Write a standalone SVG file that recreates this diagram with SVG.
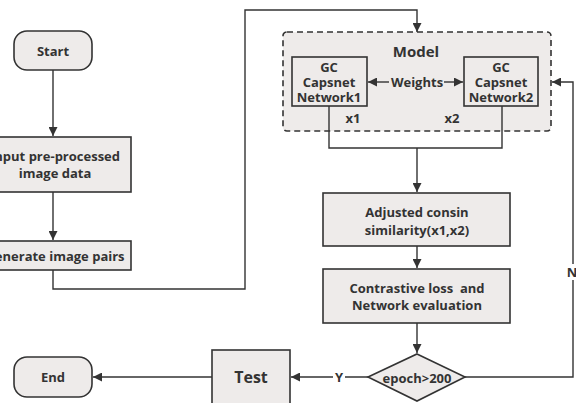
<svg xmlns="http://www.w3.org/2000/svg" width="576" height="403" viewBox="0 0 576 403">
<defs>
<marker id="ah" viewBox="0 0 10 10" refX="10" refY="5" markerWidth="9" markerHeight="9" markerUnits="userSpaceOnUse" orient="auto">
<path d="M0,0 L10,5 L0,10 z" fill="#333"/>
</marker>
</defs>
<style>
.box{fill:#eeebea;stroke:#333;stroke-width:1.6}
.ln{fill:none;stroke:#333;stroke-width:1.4}
.t{font-family:"Open Sans","Noto Sans",sans-serif;font-weight:bold;font-size:13px;fill:#333;text-anchor:middle;dominant-baseline:central}
</style>
<rect width="576" height="403" fill="#fff"/>
<g id="start">
<rect class="box" x="14" y="31" width="78" height="39" rx="13"/>
<text class="t" x="53" y="51">Start</text>
</g>
<g id="input">
<rect class="box" x="-25" y="137" width="156" height="55"/>
<text class="t" x="55" y="156">Input pre-processed</text>
<text class="t" x="55" y="173">image data</text>
</g>
<g id="generate">
<rect class="box" x="-25" y="241" width="156" height="29"/>
<text class="t" x="55" y="256">Generate image pairs</text>
</g>
<g id="model">
<rect x="283" y="32" width="268" height="99" rx="4" fill="#eeebea" stroke="#333" stroke-width="1.6" stroke-dasharray="6,4"/>
<text class="t" x="416" y="51" style="font-size:15px">Model</text>
<text class="t" x="417" y="82">Weights</text>
<text class="t" x="353" y="118">x1</text>
<text class="t" x="452" y="118">x2</text>
</g>
<g id="net1">
<rect class="box" x="292" y="57" width="75" height="49"/>
<text class="t" x="329" y="67">GC</text>
<text class="t" x="329" y="82">Capsnet</text>
<text class="t" x="329" y="97">Network1</text>
</g>
<g id="net2">
<rect class="box" x="464" y="57" width="74" height="49"/>
<text class="t" x="501" y="67">GC</text>
<text class="t" x="501" y="82">Capsnet</text>
<text class="t" x="501" y="97">Network2</text>
</g>
<g id="adjusted">
<rect class="box" x="323" y="193" width="187" height="53"/>
<text class="t" x="417" y="212">Adjusted consin</text>
<text class="t" x="417" y="230">similarity(x1,x2)</text>
</g>
<g id="contrastive">
<rect class="box" x="323" y="269" width="187" height="54"/>
<text class="t" x="417" y="288" xml:space="preserve">Contrastive loss  and</text>
<text class="t" x="417" y="305">Network evaluation</text>
</g>
<g id="epoch">
<polygon class="box" points="417,354 465,377 417,401 368,377"/>
<text class="t" x="417" y="378">epoch&gt;200</text>
</g>
<g id="test">
<rect class="box" x="212" y="350" width="78" height="60"/>
<text class="t" x="251" y="377" style="font-size:16px">Test</text>
</g>
<g id="end">
<rect class="box" x="14" y="357" width="78" height="40" rx="13"/>
<text class="t" x="53" y="377">End</text>
</g>
<g id="connectors">
<path class="ln" d="M53,70 V136" marker-end="url(#ah)"/>
<path class="ln" d="M53,192 V240" marker-end="url(#ah)"/>
<path class="ln" d="M53,270 V289 H245 V10 H417 V32" marker-end="url(#ah)"/>
<path class="ln" d="M389,82 H368" marker-end="url(#ah)"/>
<path class="ln" d="M444,82 H463" marker-end="url(#ah)"/>
<path class="ln" d="M329,106 V148 H502 V106"/>
<path class="ln" d="M417,148 V192" marker-end="url(#ah)"/>
<path class="ln" d="M417,246 V268" marker-end="url(#ah)"/>
<path class="ln" d="M417,323 V353" marker-end="url(#ah)"/>
<path class="ln" d="M465,377 H573 V82 H552" marker-end="url(#ah)"/>
<path class="ln" d="M368,377 H291" marker-end="url(#ah)"/>
<path class="ln" d="M212,377 H93" marker-end="url(#ah)"/>
<rect x="566" y="264" width="12" height="16" fill="#fff"/>
<text class="t" x="572" y="272">N</text>
<rect x="333" y="370" width="12" height="15" fill="#fff"/>
<text class="t" x="339" y="377">Y</text>
</g>
</svg>
